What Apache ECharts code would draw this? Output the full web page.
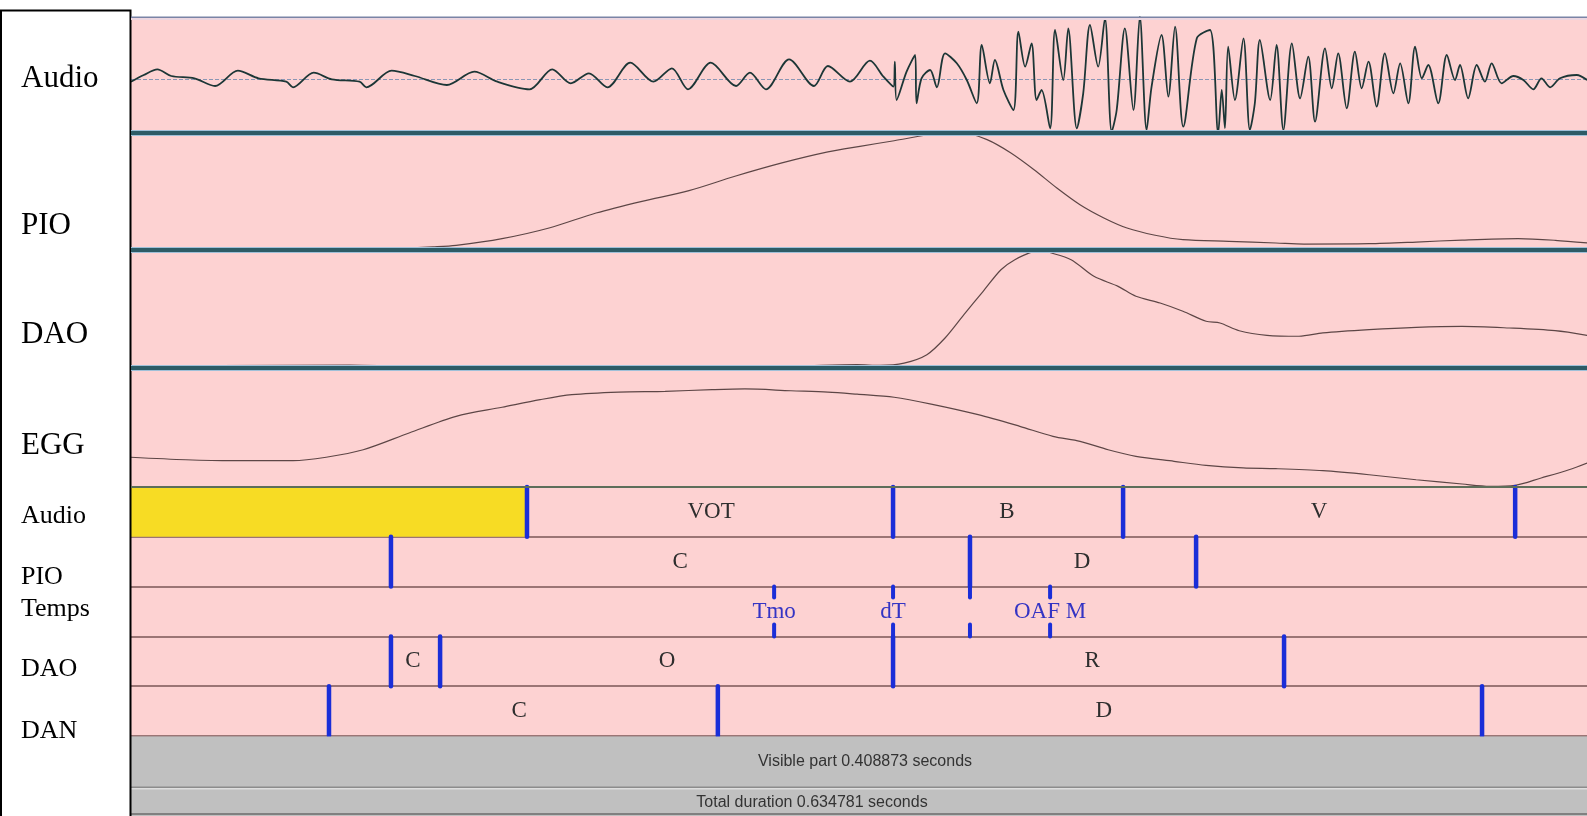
<!DOCTYPE html>
<html>
<head>
<meta charset="utf-8">
<script src="https://cdn.jsdelivr.net/npm/echarts@6/dist/echarts.min.js"></script>
<style>
html,body{margin:0;padding:0;background:#fff;}
#chart{width:1587px;height:816px;}
</style>
</head>
<body>
<div id="chart"></div>
<script>
// ---- DATA (time in ms, visible window 0 .. 408.873 ms) ----
const visibleMs = 408.873;

// Audio waveform: [time ms, amplitude]
const audioSignal = [
[0,-2.7],[3.6,4],[7.4,9.7],[11.3,3],[17.8,0.7],[23.6,-7],[30.0,8.3],[35.8,0.7],[43.6,-2.7],[45.5,-8.3],
[51.3,6.3],[56.4,-0.3],[64.2,-2.7],[66.1,-8.3],[73.2,8.3],[79.7,3],[88.7,-6],[96.4,7.3],[102.9,-2.7],[111.9,-10.3],
[118.3,9.7],[123.5,-4.3],[128.6,5.7],[133.8,-8.3],[140.2,16.3],[146.7,-2.7],[151.9,10.7],[156.4,-10.3],[162.8,16.3],[169.9,-7],
[173.8,6.3],[178.3,-10.3],[184.8,19.7],[191.8,-7],[195.7,13],[201.9,-2.7],[207.5,18.3],[211.3,2.3],[214.1,-7.7],[214.5,17.3],
[215.0,-21],[217.8,7.3],[220.2,24],[220.6,-24.3],[222.0,0.7],[224.4,9],[226.3,-8.3],[228.6,25.7],[231.9,15.7],[234.7,-1],
[237.5,-24.3],[238.9,34],[241.2,-4.3],[242.6,19],[245.0,-11],[247.8,-31],[249.2,47.3],[251.1,12.3],[252.9,35.7],[254.3,-21],
[255.7,-11],[258.1,-49.3],[259.5,49],[261.8,-1],[263.2,50.7],[265.6,-49.3],[267.4,-14.3],[269.3,54],[271.6,12.3],[273.5,60.7],
[275.4,-52.7],[276.8,-31],[279.1,50.7],[281.5,-31],[283.3,62.3],[285.2,-51],[286.6,-7.7],[289.4,44],[291.3,-17.7],[293.2,52.3],
[295.5,-47.7],[299.3,40.7],[303.0,49],[305.3,-54],[306.3,-11],[307.2,-49],[308.1,32.3],[310.0,-21],[312.4,40.7],[314.2,-51],
[315.6,-24],[317.0,39],[319.9,-21],[321.7,34],[323.6,-51],[326.0,35.7],[328.3,-19.3],[330.6,22.3],[332.5,-42.7],[335.3,30.7],
[337.2,-9.3],[339.0,25.7],[341.4,-29.3],[343.7,27.3],[345.6,-9.3],[347.5,17.3],[349.8,-27.7],[352.1,25.7],[354.5,-14.3],[356.4,15.7],
[358.7,-24.3],[360.6,32.3],[362.5,0.7],[364.3,14],[367.1,-24.3],[369.5,24],[371.8,-1],[373.2,14],[375.5,-19.3],[377.9,14],
[380.2,-2.7],[382.1,15.7],[384.9,-4.3],[388.2,3],[391.0,-1],[393.8,-10.3],[396.1,0.7],[398.5,-8.3],[401.3,0.7],[406.0,4],[408.9,-1]
];

// PIO (% of track height)
const pioSignal = [
[0,0],[63.7,0.3],[75.0,1.1],[84.8,2.6],[91.3,4],[104.2,9.7],[117.4,18.8],[130.6,31.6],[143.5,41.6],[156.7,50.7],
[169.6,63],[182.8,74.4],[195.7,83.8],[204.7,88.6],[214.3,93.4],[223.5,98.3],[228.6,100],[233.9,100],[240.4,94.3],[247.1,82.9],
[253.6,68.6],[260.0,53],[266.5,38.7],[273.2,27.4],[279.7,18.8],[287.6,12.6],[295.4,8.8],[308.3,7.4],[321.5,6],[329.4,5.1],
[347.7,5.4],[360.9,6.8],[373.8,8.5],[389.5,9.7],[399.9,8.3],[408.9,6]
];

// DAO (% of track height)
const daoSignal = [
[0,1],[25.0,2],[61.5,2.5],[81.2,1],[103.6,0.5],[131.7,1.5],[159.8,1],[187.9,2],[203.9,2.8],[210.3,2.3],
[217.1,4.2],[223.5,11.3],[228.6,25.4],[233.9,45.2],[239.3,65],[244.3,83.3],[248.2,91.8],[253.6,99],[255.5,100],[257.5,98.3],
[264.0,91.8],[270.4,77.7],[277.2,69.2],[282.2,60.8],[289.0,55.1],[295.4,48.1],[301.9,39.6],[305.8,38.1],[311.2,31.6],[319.0,27.7],
[328.0,26.9],[334.7,29.7],[347.7,32.5],[360.9,34.5],[373.8,35.3],[387.0,33.9],[399.9,31.6],[408.9,27.7]
];

// EGG (% of track height)
const eggSignal = [
[0,25],[15.4,22.9],[28.4,22.1],[45.5,22.1],[54.8,25],[65.2,31.3],[78.1,45.4],[91.3,59.4],[104.2,67],[114.9,73.4],
[123.8,77.6],[137.0,79.8],[150.0,80.4],[163.2,81.8],[172.4,82.4],[185.3,80.9],[195.7,79.8],[203.9,78],[214.3,75.4],[224.7,69.7],
[237.9,60.8],[249.6,51],[258.9,42.6],[266.5,38.4],[274.4,31.3],[282.2,25.8],[292.9,21.6],[301.9,18.2],[312.3,16],[321.5,15.4],
[334.7,13.7],[347.7,10.3],[360.9,6.1],[373.8,2.5],[381.6,0.6],[388.7,1.4],[396.0,7.6],[403.8,14.5],[408.9,20.2]
];

// Annotation tiers
const tierNames = ['Audio','PIO','Temps','DAO','DAN'];
const audioTierMarks = [111.2, 214.0, 278.6, 388.7];
const pioTierMarks = [73.0, 235.6, 299.1];
const tempsTierMarks = [180.6, 214.0, 235.6, 258.1];
const daoTierMarks = [73.0, 86.8, 214.0, 323.8];
const danTierMarks = [55.6, 164.8, 379.4];
const audioTierLabels = [['VOT',162.9],['B',246.0],['V',333.6]];
const pioTierLabels = [['C',154.2],['D',267.1]];
const tempsTierLabels = [['Tmo',180.6],['dT',214.0],['OAF M',258.1]];
const daoTierLabels = [['C',79.2],['O',150.5],['R',269.9]];
const danTierLabels = [['C',109.0],['D',273.2]];
const selectionMs = [0, 111.2];

const visibleText = 'Visible part 0.408873 seconds';
const totalText = 'Total duration 0.634781 seconds';

// ---- build ----
const PINK = '#fdd2d2';
const BLUE = '#1a2ed8';
const L = 131, W = 1456;

const markData = [];
[audioTierMarks, pioTierMarks, null, daoTierMarks, danTierMarks].forEach((arr, r) => {
  if (arr) arr.forEach(t => markData.push([t, r]));
});
const tickData = tempsTierMarks.map(t => [t, 2]);
const labelRows = [audioTierLabels, pioTierLabels, tempsTierLabels, daoTierLabels, danTierLabels];
const labelData = [];
const labelText = [];
labelRows.forEach((arr, r) => arr.forEach(d => { labelData.push([d[1], r]); labelText.push(d[0]); }));

const grids = [
  {left:L, top:17, width:W, height:116},
  {left:L, top:133, width:W, height:117},
  {left:L, top:250, width:W, height:118},
  {left:L, top:368, width:W, height:119},
  {left:L, top:487, width:W, height:249}
].map(g => Object.assign(g, {show:true, backgroundColor:PINK, borderWidth:0}));

const xAxes = grids.map((g,i) => ({type:'value', gridIndex:i, min:0, max:visibleMs, show:false}));
const yAxes = [
  {type:'value', gridIndex:0, min:-54, max:62, show:false},
  {type:'value', gridIndex:1, min:0, max:100, show:false},
  {type:'value', gridIndex:2, min:0, max:100, show:false},
  {type:'value', gridIndex:3, min:0, max:100, show:false},
  {type:'value', gridIndex:4, min:0, max:5, interval:1, inverse:true,
   axisLine:{show:false}, axisTick:{show:false}, axisLabel:{show:false},
   splitLine:{show:true, lineStyle:{color:'#7a5656', width:1.5}}}
];

const curveStyle = {color:'#5d4646', width:1.2};

function sepLine(y){
  return [
    {type:'rect', z:50, shape:{x:L, y:y-3, width:W, height:1}, style:{fill:'#9fc0d8'}},
    {type:'rect', z:51, shape:{x:L, y:y-2, width:W, height:4}, style:{fill:'#2d5b66'}},
    {type:'rect', z:50, shape:{x:L, y:y+2, width:W, height:1}, style:{fill:'#9fc0d8'}}
  ];
}
const serif = 'Liberation Serif, Times New Roman, serif';
function leftText(t, capCenter, size){
  return {type:'text', z:60, left:21, top:capCenter - size*0.45, style:{text:t, font: size+'px ' + serif, fill:'#000'}};
}

const option = {
  animation:false,
  backgroundColor:'#ffffff',
  grid: grids,
  xAxis: xAxes,
  yAxis: yAxes,
  series: [
    {type:'line', xAxisIndex:0, yAxisIndex:0, data:audioSignal, symbol:'none', z:5, smooth:0.3,
     lineStyle:{color:'#1c3636', width:1.8},
     markLine:{silent:true, symbol:'none', label:{show:false}, data:[{yAxis:0}],
       lineStyle:{type:'dashed', color:'#8a96b4', width:1}}},
    {type:'line', xAxisIndex:1, yAxisIndex:1, data:pioSignal, symbol:'none', smooth:0.3, lineStyle:curveStyle},
    {type:'line', xAxisIndex:2, yAxisIndex:2, data:daoSignal, symbol:'none', smooth:0.3, lineStyle:curveStyle},
    {type:'line', xAxisIndex:3, yAxisIndex:3, data:eggSignal, symbol:'none', smooth:0.3, lineStyle:curveStyle},
    {type:'custom', xAxisIndex:4, yAxisIndex:4, data:[selectionMs], z:2,
     renderItem:(p, api) => {
       const a = api.coord([api.value(0), 0]), b = api.coord([api.value(1), 1]);
       return {type:'rect', shape:{x:a[0], y:a[1], width:b[0]-a[0], height:b[1]-a[1]}, style:{fill:'#f7dc24'}};
     }},
    {type:'custom', xAxisIndex:4, yAxisIndex:4, data:markData, z:10,
     renderItem:(p, api) => {
       const t = api.value(0), r = api.value(1);
       const a = api.coord([t, r]), b = api.coord([t, r+1]);
       return {type:'line', shape:{x1:a[0], y1:a[1], x2:b[0], y2:b[1]}, style:{stroke:BLUE, lineWidth:4.5, lineCap:'round'}};
     }},
    {type:'custom', xAxisIndex:4, yAxisIndex:4, data:tickData, z:10,
     renderItem:(p, api) => {
       const t = api.value(0), r = api.value(1);
       const a = api.coord([t, r]), b = api.coord([t, r+0.22]);
       const c = api.coord([t, r+0.76]), d = api.coord([t, r+1]);
       return {type:'group', children:[
         {type:'line', shape:{x1:a[0], y1:a[1], x2:b[0], y2:b[1]}, style:{stroke:BLUE, lineWidth:4, lineCap:'round'}},
         {type:'line', shape:{x1:c[0], y1:c[1], x2:d[0], y2:d[1]}, style:{stroke:BLUE, lineWidth:4, lineCap:'round'}}
       ]};
     }},
    {type:'custom', xAxisIndex:4, yAxisIndex:4, data:labelData, z:12,
     renderItem:(p, api) => {
       const t = api.value(0), r = api.value(1);
       const c = api.coord([t, r+0.5]);
       return {type:'text', x:c[0], y:c[1], style:{text:labelText[p.dataIndex], font:'23px ' + serif,
         fill: r === 2 ? '#3434c4' : '#2e2e2e', align:'center', verticalAlign:'middle'}};
     }}
  ],
  graphic: [
    {type:'rect', z:40, shape:{x:1, y:10.5, width:129.5, height:812}, style:{fill:'#ffffff', stroke:'#000000', lineWidth:2}},
    leftText('Audio', 77, 31), leftText('PIO', 224, 31), leftText('DAO', 333, 31), leftText('EGG', 444, 31),
    leftText('Audio', 515, 26), leftText('PIO', 576, 26), leftText('Temps', 608, 26), leftText('DAO', 668, 26), leftText('DAN', 730, 26),
    {type:'rect', z:50, shape:{x:L, y:16.5, width:W, height:1.5}, style:{fill:'#7a84a6'}},
    {type:'rect', z:49, shape:{x:L, y:18, width:W, height:2}, style:{fill:'#ecd6e0'}},
    ...sepLine(133), ...sepLine(250), ...sepLine(368),
    {type:'rect', z:50, shape:{x:L, y:486, width:W, height:2}, style:{fill:'#5d6e5a'}},
    {type:'rect', z:30, shape:{x:L, y:736.5, width:W, height:80}, style:{fill:'#c0c0c0'}},
    {type:'rect', z:31, shape:{x:L, y:786.5, width:W, height:1.5}, style:{fill:'#8c8c8c'}},
    {type:'rect', z:31, shape:{x:L, y:788, width:W, height:1.5}, style:{fill:'#dedede'}},
    {type:'rect', z:31, shape:{x:L, y:813, width:W, height:2}, style:{fill:'#808080'}},
    {type:'text', z:32, x:865, y:762, style:{text:visibleText, font:'16px Liberation Sans, Arial, sans-serif', fill:'#333', align:'center', verticalAlign:'middle'}},
    {type:'text', z:32, x:812, y:803, style:{text:totalText, font:'16px Liberation Sans, Arial, sans-serif', fill:'#333', align:'center', verticalAlign:'middle'}}
  ]
};

const chart = echarts.init(document.getElementById('chart'), null, {renderer:'canvas'});
chart.setOption(option);
</script>
</body>
</html>
